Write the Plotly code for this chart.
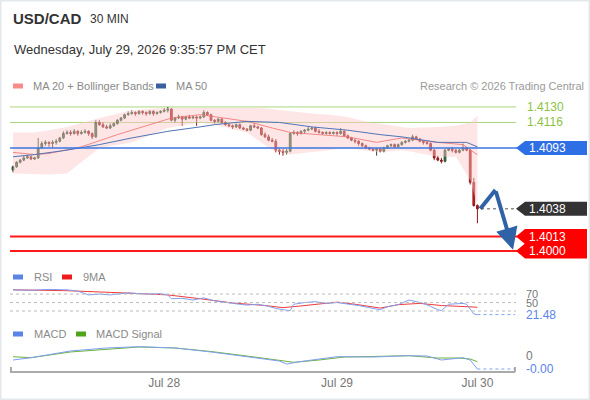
import plotly.graph_objects as go

# 30 min candles, index 0..129 (Jul 27 evening -> Jul 29 21:30)
opens = [1.4073, 1.4076, 1.4080, 1.4082, 1.4084, 1.4085, 1.4083, 1.4084, 1.4093, 1.4097,
         1.4098, 1.4097, 1.4098, 1.4099, 1.4102, 1.4106, 1.4107, 1.4106, 1.4108, 1.4106,
         1.4107, 1.4108, 1.4106, 1.4103, 1.4116, 1.4114, 1.4112, 1.4111, 1.4113, 1.4115,
         1.4118, 1.4120, 1.4123, 1.4124, 1.4125, 1.4124, 1.4126, 1.4125, 1.4124, 1.4126,
         1.4124, 1.4125, 1.4126, 1.4127, 1.4128, 1.4118, 1.4120, 1.4121, 1.4119, 1.4121,
         1.4120, 1.4121, 1.4120, 1.4121, 1.4125, 1.4123, 1.4118, 1.4117, 1.4119, 1.4116,
         1.4114, 1.4113, 1.4112, 1.4114, 1.4111, 1.4110, 1.4109, 1.4113, 1.4112, 1.4111,
         1.4105, 1.4103, 1.4100, 1.4099, 1.4091, 1.4090, 1.4089, 1.4090, 1.4106, 1.4107,
         1.4106, 1.4108, 1.4109, 1.4110, 1.4111, 1.4108, 1.4107, 1.4106, 1.4107, 1.4106,
         1.4107, 1.4106, 1.4108, 1.4104, 1.4102, 1.4100, 1.4099, 1.4097, 1.4095, 1.4093,
         1.4092, 1.4091, 1.4092, 1.4090, 1.4093, 1.4095, 1.4096, 1.4094, 1.4096, 1.4098,
         1.4099, 1.4100, 1.4103, 1.4101, 1.4099, 1.4098, 1.4097, 1.4091, 1.4084, 1.4082,
         1.4081, 1.4091, 1.4092, 1.4091, 1.4089, 1.4091, 1.4093, 1.4091, 1.4062, 1.4041]
highs = [1.4077, 1.4081, 1.4083, 1.4086, 1.4087, 1.4086, 1.4085, 1.4102, 1.4099, 1.4100,
         1.4099, 1.4100, 1.4101, 1.4103, 1.4108, 1.4109, 1.4109, 1.4110, 1.4109, 1.4109,
         1.4110, 1.4109, 1.4107, 1.4118, 1.4118, 1.4116, 1.4114, 1.4115, 1.4116, 1.4119,
         1.4121, 1.4124, 1.4126, 1.4127, 1.4126, 1.4127, 1.4127, 1.4126, 1.4127, 1.4127,
         1.4126, 1.4127, 1.4129, 1.4130, 1.4129, 1.4121, 1.4123, 1.4122, 1.4122, 1.4123,
         1.4122, 1.4122, 1.4122, 1.4127, 1.4126, 1.4124, 1.4119, 1.4120, 1.4120, 1.4117,
         1.4115, 1.4114, 1.4115, 1.4115, 1.4112, 1.4111, 1.4114, 1.4115, 1.4113, 1.4112,
         1.4107, 1.4105, 1.4102, 1.4101, 1.4093, 1.4092, 1.4092, 1.4107, 1.4109, 1.4108,
         1.4109, 1.4110, 1.4112, 1.4112, 1.4112, 1.4110, 1.4108, 1.4108, 1.4108, 1.4108,
         1.4108, 1.4111, 1.4109, 1.4105, 1.4103, 1.4101, 1.4100, 1.4098, 1.4096, 1.4094,
         1.4093, 1.4093, 1.4093, 1.4094, 1.4096, 1.4097, 1.4097, 1.4097, 1.4099, 1.4100,
         1.4101, 1.4105, 1.4104, 1.4102, 1.4100, 1.4099, 1.4098, 1.4092, 1.4086, 1.4084,
         1.4092, 1.4093, 1.4094, 1.4092, 1.4092, 1.4097, 1.4094, 1.4092, 1.4066, 1.4042]
lows = [1.4071, 1.4075, 1.4079, 1.4081, 1.4083, 1.4082, 1.4082, 1.4083, 1.4092, 1.4095,
        1.4094, 1.4093, 1.4096, 1.4098, 1.4101, 1.4105, 1.4104, 1.4105, 1.4104, 1.4105,
        1.4106, 1.4104, 1.4101, 1.4102, 1.4113, 1.4111, 1.4110, 1.4110, 1.4112, 1.4114,
        1.4117, 1.4119, 1.4122, 1.4123, 1.4122, 1.4123, 1.4123, 1.4122, 1.4123, 1.4122,
        1.4123, 1.4124, 1.4125, 1.4125, 1.4117, 1.4116, 1.4119, 1.4113, 1.4118, 1.4119,
        1.4119, 1.4113, 1.4119, 1.4120, 1.4122, 1.4117, 1.4115, 1.4116, 1.4115, 1.4113,
        1.4112, 1.4110, 1.4111, 1.4110, 1.4109, 1.4108, 1.4108, 1.4111, 1.4110, 1.4104,
        1.4102, 1.4099, 1.4098, 1.4089, 1.4087, 1.4086, 1.4087, 1.4089, 1.4105, 1.4104,
        1.4105, 1.4106, 1.4108, 1.4109, 1.4107, 1.4106, 1.4105, 1.4105, 1.4105, 1.4105,
        1.4104, 1.4105, 1.4103, 1.4101, 1.4099, 1.4097, 1.4095, 1.4094, 1.4092, 1.4091,
        1.4090, 1.4086, 1.4089, 1.4089, 1.4092, 1.4094, 1.4093, 1.4093, 1.4095, 1.4097,
        1.4098, 1.4099, 1.4100, 1.4098, 1.4096, 1.4096, 1.4090, 1.4082, 1.4081, 1.4079,
        1.4080, 1.4090, 1.4089, 1.4088, 1.4088, 1.4090, 1.4090, 1.4060, 1.4040, 1.4025]
closes = [1.4076, 1.4080, 1.4082, 1.4084, 1.4085, 1.4083, 1.4084, 1.4093, 1.4097, 1.4098,
          1.4097, 1.4098, 1.4099, 1.4102, 1.4106, 1.4107, 1.4106, 1.4108, 1.4106, 1.4107,
          1.4108, 1.4106, 1.4103, 1.4116, 1.4114, 1.4112, 1.4111, 1.4113, 1.4115, 1.4118,
          1.4120, 1.4123, 1.4124, 1.4125, 1.4124, 1.4126, 1.4125, 1.4124, 1.4126, 1.4124,
          1.4125, 1.4126, 1.4127, 1.4128, 1.4118, 1.4120, 1.4121, 1.4119, 1.4121, 1.4120,
          1.4121, 1.4120, 1.4121, 1.4125, 1.4123, 1.4118, 1.4117, 1.4119, 1.4116, 1.4114,
          1.4113, 1.4112, 1.4114, 1.4111, 1.4110, 1.4109, 1.4113, 1.4112, 1.4111, 1.4105,
          1.4103, 1.4100, 1.4099, 1.4091, 1.4090, 1.4089, 1.4090, 1.4106, 1.4107, 1.4106,
          1.4108, 1.4109, 1.4110, 1.4111, 1.4108, 1.4107, 1.4106, 1.4107, 1.4106, 1.4107,
          1.4106, 1.4108, 1.4104, 1.4102, 1.4100, 1.4099, 1.4097, 1.4095, 1.4093, 1.4092,
          1.4091, 1.4092, 1.4090, 1.4093, 1.4095, 1.4096, 1.4094, 1.4096, 1.4098, 1.4099,
          1.4100, 1.4103, 1.4101, 1.4099, 1.4098, 1.4097, 1.4091, 1.4084, 1.4082, 1.4081,
          1.4091, 1.4092, 1.4091, 1.4089, 1.4091, 1.4093, 1.4091, 1.4062, 1.4041, 1.4038]
candle_idx = list(range(len(closes)))

# moving averages / bollinger bands, read at sampled candles
ma20_x = [0, 6, 10, 19, 29, 38, 44, 52, 56, 65, 72, 77, 85, 93, 101, 108, 118, 125, 128, 129]
ma20_y = [1.4089, 1.4087, 1.4088, 1.4094, 1.4105, 1.4114, 1.4120, 1.4123, 1.4121, 1.4117,
          1.4111, 1.4107, 1.4105, 1.4103, 1.4098, 1.4102, 1.4098, 1.4096, 1.4089, 1.4087]
bb_x = [0, 6, 10, 15, 24, 33, 41, 43, 52, 56, 65, 69, 72, 77, 83, 88, 93, 99, 102, 108, 110, 118, 123, 127, 129]
bb_upper = [1.4107, 1.4107, 1.4109, 1.4112, 1.4120, 1.4127, 1.4129, 1.4129, 1.4129, 1.4129, 1.4129,
            1.4129, 1.4128, 1.4126, 1.4124, 1.4123, 1.4121, 1.4116, 1.4115, 1.4112, 1.4111, 1.4112,
            1.4113, 1.4116, 1.4122]
bb_lower = [1.4070, 1.4069, 1.4069, 1.4070, 1.4093, 1.4098, 1.4108, 1.4111, 1.4116, 1.4114, 1.4107,
            1.4098, 1.4091, 1.4087, 1.4089, 1.4091, 1.4093, 1.4090, 1.4089, 1.4091, 1.4090, 1.4085,
            1.4085, 1.4064, 1.4041]
ma50_x = [0, 6, 15, 24, 33, 43, 52, 56, 65, 74, 83, 93, 102, 108, 118, 126, 129]
ma50_y = [1.4085, 1.4087, 1.4091, 1.4096, 1.4102, 1.4108, 1.4112, 1.4114, 1.4117, 1.4116,
          1.4112, 1.4109, 1.4105, 1.4103, 1.4098, 1.4098, 1.4094]

# key levels
resist_levels = [1.4130, 1.4116]
pivot_level = 1.4093
support_levels = [1.4013, 1.4000]
last_price = 1.4038

# forecast path (start, turn, target)
fc_x = [129.8, 134.0, 138.9]
fc_y = [1.4038, 1.4055, 1.4001]

# RSI and its 9MA
rsi_x = [0, 5, 10, 15, 18, 21, 24, 27, 30, 32, 35, 38, 41, 43, 44, 47, 50, 53, 56, 59, 62, 65, 68,
         71, 73, 75, 77, 78, 81, 84, 87, 90, 93, 96, 99, 102, 104, 107, 110, 112, 114, 116, 118,
         119, 121, 123, 125, 126, 127, 128, 129]
rsi_y = [80, 79, 81, 80, 77, 68, 70, 68, 71, 73, 71, 70, 71, 68, 59, 60, 56, 61, 54, 50, 47, 44, 46,
         41, 36, 33, 31, 46, 50, 52, 48, 50, 47, 43, 38, 33, 40, 45, 56, 52, 48, 41, 33,
         31, 46, 47, 48, 46, 35, 23, 21.48]
rsi_ma_x = [0, 15, 30, 43, 52, 61, 70, 75, 80, 90, 95, 102, 107, 113, 119, 123, 129]
rsi_ma_y = [80, 78, 73, 68, 59, 49, 43, 38, 42, 51, 46, 37, 45, 48, 43, 42, 39]
rsi_guides = [70, 50, 30]

# MACD
macd_x = [0, 5, 16, 26, 35, 45, 55, 65, 74, 76, 80, 90, 100, 110, 115, 119, 122, 125, 127, 129]
macd_y = [-0.000108, -0.00005, 0.000118, 0.000193, 0.000225, 0.000193, 0.000093, -0.00002,
          -0.000133, -0.000208, -0.000145, -0.000025, -0.000033, 0.0, -0.000008, -0.000108,
          -0.00007, -0.00005, -0.000108, -0.000333]
signal_x = [0, 5, 16, 26, 35, 45, 55, 65, 74, 78, 85, 92, 102, 110, 118, 124, 127, 129]
signal_y = [-0.000025, -0.00005, 0.000093, 0.000168, 0.000218, 0.000193, 0.000105, -0.000008,
            -0.000108, -0.000165, -0.000108, -0.000033, -0.000015, 0.0, -0.000058, -0.000058,
            -0.000083, -0.00015]

tick_pos = [42, 90, 129]
tick_text = ["Jul 28", "Jul 29", "Jul 30"]

W, H = 590, 400
FONT = "Liberation Sans, Arial, sans-serif"


def px(x):
    return x / W


def py(y):
    return 1 - y / H


X_RANGE = [-0.83, 139.44]
P_RANGE = [1.39900, 1.41435]
P_PER_PX = (P_RANGE[1] - P_RANGE[0]) / 170

fig = go.Figure()

# bollinger band fill
fig.add_trace(go.Scatter(x=bb_x, y=bb_upper, mode="lines", line=dict(width=0, color="rgba(0,0,0,0)"),
                         hoverinfo="skip"))
fig.add_trace(go.Scatter(x=bb_x, y=bb_lower, mode="lines", line=dict(width=0, color="rgba(0,0,0,0)"),
                         fill="tonexty", fillcolor="rgba(252,200,200,0.45)", hoverinfo="skip"))
fig.add_trace(go.Scatter(x=ma20_x, y=ma20_y, mode="lines",
                         line=dict(color="rgba(240,110,110,0.8)", width=1)))
fig.add_trace(go.Scatter(x=ma50_x, y=ma50_y, mode="lines", line=dict(color="#4f74b8", width=1)))

fig.add_trace(go.Candlestick(
    x=candle_idx, open=opens, high=highs, low=lows, close=closes,
    increasing=dict(line=dict(color="#2d4a2d", width=1), fillcolor="#2f7d34"),
    decreasing=dict(line=dict(color="#8a1a1a", width=1), fillcolor="#e8140f"),
    whiskerwidth=0,
))

# forecast arrow: first leg as a line, last leg as an arrow annotation
fig.add_trace(go.Scatter(
    x=fc_x[:2], y=fc_y[:2], mode="lines",
    line=dict(color="#2f62a6", width=4),
))

# RSI panel
fig.add_trace(go.Scatter(x=rsi_ma_x, y=rsi_ma_y, yaxis="y2", mode="lines",
                         line=dict(color="#f03a3a", width=1)))
fig.add_trace(go.Scatter(x=rsi_x, y=rsi_y, yaxis="y2", mode="lines",
                         line=dict(color="#7f9ff0", width=1)))

# MACD panel
fig.add_trace(go.Scatter(x=signal_x, y=signal_y, yaxis="y3", mode="lines",
                         line=dict(color="#6cb33a", width=1)))
fig.add_trace(go.Scatter(x=macd_x, y=macd_y, yaxis="y3", mode="lines",
                         line=dict(color="#7f9ff0", width=1)))

shapes = []
annotations = []

annotations.append(dict(x=fc_x[2], y=fc_y[2], ax=fc_x[1], ay=fc_y[1], xref="x", yref="y",
                        axref="x", ayref="y", showarrow=True, arrowhead=2, arrowsize=1.1,
                        arrowwidth=4, arrowcolor="#2f62a6", text=""))

# frame
shapes.append(dict(type="rect", xref="paper", yref="paper", x0=0, x1=1, y0=0, y1=1,
                   line=dict(color="#e3e8ec", width=3)))

# level lines
for lv in resist_levels:
    shapes.append(dict(type="line", xref="paper", yref="y", x0=px(10), x1=px(516), y0=lv, y1=lv,
                       line=dict(color="#a9d67c", width=1), layer="below"))
shapes.append(dict(type="line", xref="paper", yref="y", x0=px(10), x1=px(517), y0=pivot_level,
                   y1=pivot_level, line=dict(color="#3b76e3", width=1.5)))
for lv in support_levels:
    shapes.append(dict(type="line", xref="paper", yref="y", x0=px(10), x1=px(517), y0=lv, y1=lv,
                       line=dict(color="#ff1a1a", width=2)))
shapes.append(dict(type="line", xref="x", yref="y", x0=candle_idx[-1] + 1, x1=X_RANGE[1],
                   y0=last_price, y1=last_price, line=dict(color="#555555", width=1, dash="dot")))


def tag(level, color, h_px=14):
    h = h_px * P_PER_PX / 2
    x0, x1, x2 = px(516), px(525), px(587)
    path = (f"M {x0},{level} L {x1},{level + h} L {x2},{level + h} "
            f"L {x2},{level - h} L {x1},{level - h} Z")
    shapes.append(dict(type="path", xref="paper", yref="y", path=path, fillcolor=color,
                       line=dict(width=0)))
    annotations.append(dict(x=px(527), y=level, xref="paper", yref="y", xanchor="left",
                            yanchor="middle", text=f"{level:.4f}", showarrow=False,
                            font=dict(color="white", size=12, family=FONT)))


for lv in resist_levels:
    annotations.append(dict(x=px(525), y=lv, xref="paper", yref="y", xanchor="left",
                            yanchor="middle", text=f"{lv:.4f}", showarrow=False,
                            font=dict(color="#8cc23f", size=12, family=FONT)))
tag(pivot_level, "#2f6fe6")
tag(last_price, "#333333")
tag(support_levels[0], "#ff0000", 15)
tag(support_levels[1], "#ff0000", 15)

# RSI guides and labels
for g in rsi_guides:
    shapes.append(dict(type="line", xref="paper", yref="y2", x0=px(10), x1=px(516), y0=g, y1=g,
                       line=dict(color="#bbbbbb", width=1, dash="dot")))
shapes.append(dict(type="line", xref="x", yref="y2", x0=rsi_x[-1], x1=X_RANGE[1],
                   y0=rsi_y[-1], y1=rsi_y[-1], line=dict(color="#7f9ff0", width=1, dash="dot")))
for g in rsi_guides[:2]:
    annotations.append(dict(x=px(524), y=g, xref="paper", yref="y2", xanchor="left",
                            yanchor="middle", text=str(g), showarrow=False,
                            font=dict(color="#777777", size=11, family=FONT)))
annotations.append(dict(x=px(524), y=rsi_y[-1], xref="paper", yref="y2", xanchor="left",
                        yanchor="middle", text=f"{rsi_y[-1]:.2f}", showarrow=False,
                        font=dict(color="#5b84e6", size=12, family=FONT)))

# MACD labels
shapes.append(dict(type="line", xref="x", yref="y3", x0=macd_x[-1], x1=X_RANGE[1],
                   y0=macd_y[-1], y1=macd_y[-1], line=dict(color="#7f9ff0", width=1, dash="dot")))
annotations.append(dict(x=px(524), y=0, xref="paper", yref="y3", xanchor="left",
                        yanchor="middle", text="0", showarrow=False,
                        font=dict(color="#777777", size=12, family=FONT)))
annotations.append(dict(x=px(524), y=macd_y[-1], xref="paper", yref="y3", xanchor="left",
                        yanchor="middle", text=f"{macd_y[-1]:.2f}", showarrow=False,
                        font=dict(color="#5b84e6", size=12, family=FONT)))

# x axis end ticks
for xe in (11, 515):
    shapes.append(dict(type="line", xref="paper", yref="paper", x0=px(xe), x1=px(xe),
                       y0=py(372), y1=py(367), line=dict(color="#aaaaaa", width=2)))


# legends
def legend_item(x_sw, x_txt, y, color, label, sw_w=10):
    shapes.append(dict(type="rect", xref="paper", yref="paper", x0=px(x_sw), x1=px(x_sw + sw_w),
                       y0=py(y + 2.5), y1=py(y - 2.5), fillcolor=color, line=dict(width=0)))
    annotations.append(dict(x=px(x_txt), y=py(y), xref="paper", yref="paper", xanchor="left",
                            yanchor="middle", text=label, showarrow=False,
                            font=dict(color="#8a8a8a", size=11, family=FONT)))


legend_item(13, 31, 86, "#f88a8a", "MA 20 + Bollinger Bands")
legend_item(156, 174, 86, "#3a5f9f", "MA 50")
legend_item(13, 32, 277, "#5b84e6", "RSI")
legend_item(62, 81, 277, "#ee1c1c", "9MA")
legend_item(13, 32, 334, "#5b84e6", "MACD")
legend_item(76, 94, 334, "#4ea51c", "MACD Signal")

# header text
annotations += [
    dict(x=px(11), y=py(19), xref="paper", yref="paper", xanchor="left", yanchor="middle",
         text="<b>USD/CAD</b>", showarrow=False, font=dict(color="#333333", size=15, family=FONT)),
    dict(x=px(88), y=py(19), xref="paper", yref="paper", xanchor="left", yanchor="middle",
         text="30 MIN", showarrow=False, font=dict(color="#333333", size=12, family=FONT)),
    dict(x=px(12), y=py(49), xref="paper", yref="paper", xanchor="left", yanchor="middle",
         text="Wednesday, July 29, 2026 9:35:57 PM CET", showarrow=False,
         font=dict(color="#333333", size=13, family=FONT)),
    dict(x=px(586), y=py(86), xref="paper", yref="paper", xanchor="right", yanchor="middle",
         text="Research © 2026 Trading Central", showarrow=False,
         font=dict(color="#9a9a9a", size=11, family=FONT)),
]

fig.update_layout(
    width=W, height=H, margin=dict(l=0, r=0, t=0, b=0),
    paper_bgcolor="white", plot_bgcolor="rgba(0,0,0,0)",
    showlegend=False, font=dict(family=FONT),
    xaxis=dict(domain=[px(10), px(515)], range=X_RANGE, anchor="free", position=py(372),
               showgrid=False, zeroline=False, showline=True, linecolor="#aaaaaa", linewidth=2,
               tickvals=tick_pos, ticktext=tick_text, ticks="",
               tickfont=dict(color="#777777", size=12, family=FONT),
               rangeslider=dict(visible=False)),
    yaxis=dict(domain=[py(262), py(92)], range=P_RANGE, visible=False),
    yaxis2=dict(domain=[py(319.5), py(285.6)], range=[10, 90], visible=False),
    yaxis3=dict(domain=[py(372), py(338)], range=[-0.0004075, 0.0004425], visible=False),
    shapes=shapes, annotations=annotations,
)

fig.write_html("out.html", config={"displayModeBar": False},
               post_script="document.body.style.margin='0';")
